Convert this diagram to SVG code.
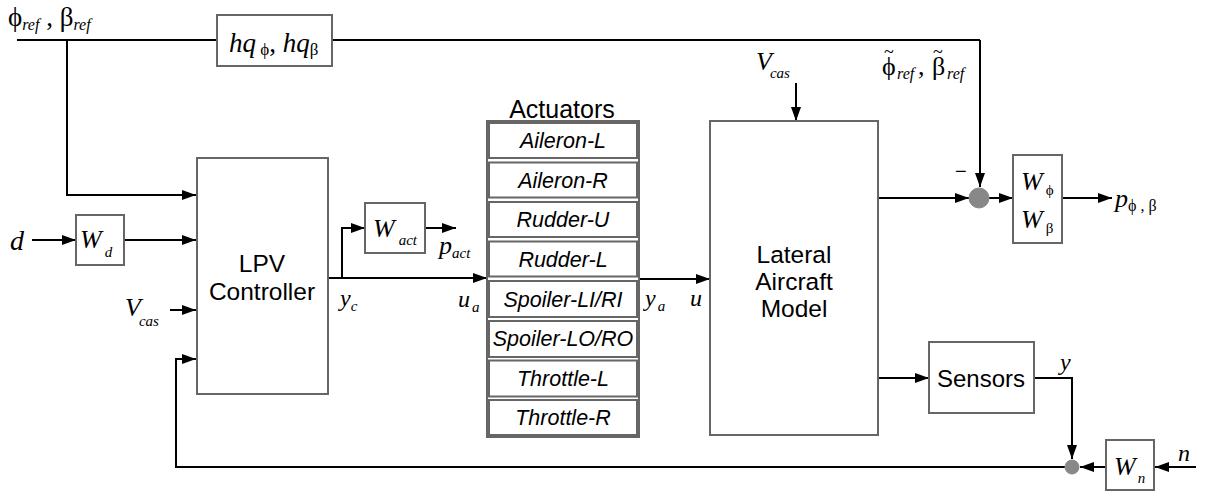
<svg xmlns="http://www.w3.org/2000/svg" width="1214" height="494" viewBox="0 0 1214 494">
<defs>
<marker id="ah" viewBox="0 0 14 10" refX="14" refY="5" markerWidth="14" markerHeight="10" markerUnits="userSpaceOnUse" orient="auto"><path d="M0,0 L14,5 L0,10 Z" fill="#000"/></marker>
<style>
.box{fill:#fff;stroke:#666;stroke-width:2}
.ln{fill:none;stroke:#000;stroke-width:2}
.arr{fill:none;stroke:#000;stroke-width:2;marker-end:url(#ah)}
.m{font-family:"Liberation Serif",serif;font-style:italic;fill:#000}
.g{font-family:"Liberation Serif",serif;font-style:normal;fill:#000}
.s{font-family:"Liberation Sans",Arial,sans-serif;fill:#000}
.r{font-family:"Liberation Sans",Arial,sans-serif;font-style:italic;font-size:21.5px;fill:#000;text-anchor:middle}
.sum{fill:#888;stroke:#888;stroke-width:1}
</style>
</defs>
<g id="connectors">
<path class="ln" d="M17,40 H217"/>
<path class="ln" d="M332,40 H980"/>
<path class="arr" d="M980,40 V187"/>
<path class="arr" d="M67,40 V195 H196"/>
<path class="arr" d="M32,240 H76"/>
<path class="arr" d="M124,240 H196"/>
<path class="arr" d="M170,310 H196"/>
<path class="arr" d="M1065,467 H176 V359 H196"/>
<path class="arr" d="M328,278 H487"/>
<path class="arr" d="M342,278 V228 H365"/>
<path class="arr" d="M425,228 H456"/>
<path class="arr" d="M638,279 H710"/>
<path class="arr" d="M796,83 V121"/>
<path class="arr" d="M879,198 H969"/>
<path class="arr" d="M989,198 H1013"/>
<path class="arr" d="M1062,198 H1112"/>
<path class="arr" d="M879,378 H929"/>
<path class="arr" d="M1034,378 H1072 V459"/>
<path class="arr" d="M1196,467 H1155"/>
<path class="arr" d="M1106,467 H1080"/>
</g>
<g id="sum1"><circle class="sum" cx="979" cy="198" r="10"/><text class="s" x="955" y="178" font-size="20">−</text></g>
<g id="sum2"><circle class="sum" cx="1072" cy="467" r="7"/></g>
<g id="ref-label">
<text x="8" y="26" font-size="27"><tspan class="g">ϕ</tspan><tspan class="m" font-size="16" dy="4">ref</tspan><tspan class="g" dy="-4"> , β</tspan><tspan class="m" font-size="16" dy="4">ref</tspan></text>
</g>
<g id="hq"><rect class="box" x="217" y="15" width="115" height="51"/>
<text x="229" y="52" font-size="27"><tspan class="m">hq</tspan><tspan class="g" font-size="17" dy="3"> ϕ</tspan><tspan class="g" dy="-3">, </tspan><tspan class="m">hq</tspan><tspan class="g" font-size="17" dy="3">β</tspan></text></g>
<g id="d-label"><text class="m" x="10" y="250" font-size="28">d</text></g>
<g id="Wd"><rect class="box" x="76" y="215" width="48" height="50"/>
<text x="80" y="248" font-size="26"><tspan class="m">W</tspan><tspan class="m" font-size="15" dx="3" dy="9">d</tspan></text></g>
<g id="vcas1"><text x="125" y="316" font-size="26"><tspan class="m">V</tspan><tspan class="m" font-size="15" dx="-2" dy="10">cas</tspan></text></g>
<g id="lpv"><rect class="box" x="197" y="158" width="131" height="236"/>
<text class="s" x="262" y="272" font-size="24.5" text-anchor="middle">LPV</text>
<text class="s" x="262" y="300" font-size="24.5" text-anchor="middle">Controller</text></g>
<g id="yc"><text x="340" y="306" font-size="24"><tspan class="m">y</tspan><tspan class="m" font-size="15" dy="5">c</tspan></text></g>
<g id="Wact"><rect class="box" x="365" y="203" width="60" height="50"/>
<text x="373" y="237" font-size="26"><tspan class="m">W</tspan><tspan class="m" font-size="15" dx="4" dy="8">act</tspan></text></g>
<g id="pact"><text x="439" y="254" font-size="26"><tspan class="m">p</tspan><tspan class="m" font-size="15" dy="4">act</tspan></text></g>
<g id="ua"><text x="458" y="307" font-size="24"><tspan class="m">u</tspan><tspan class="m" font-size="15" dx="2" dy="5">a</tspan></text></g>
<g id="actuators">
<text class="s" x="562" y="118" font-size="25" text-anchor="middle">Actuators</text>
<rect x="487" y="121" width="152" height="316" fill="#fff" stroke="#666" stroke-width="2"/>
<rect class="box" x="489" y="123" width="148" height="35"/>
<rect class="box" x="489" y="162.5" width="148" height="35"/>
<rect class="box" x="489" y="202" width="148" height="35"/>
<rect class="box" x="489" y="241.5" width="148" height="35"/>
<rect class="box" x="489" y="281" width="148" height="36"/>
<rect class="box" x="489" y="321" width="148" height="36"/>
<rect class="box" x="489" y="360.5" width="148" height="36"/>
<rect class="box" x="489" y="400" width="148" height="35"/>
<text class="r" x="563" y="148">Aileron-L</text>
<text class="r" x="563" y="188">Aileron-R</text>
<text class="r" x="563" y="227">Rudder-U</text>
<text class="r" x="563" y="267">Rudder-L</text>
<text class="r" x="563" y="307">Spoiler-LI/RI</text>
<text class="r" x="563" y="346">Spoiler-LO/RO</text>
<text class="r" x="563" y="386">Throttle-L</text>
<text class="r" x="563" y="425">Throttle-R</text>
</g>
<g id="ya"><text x="645" y="306" font-size="24"><tspan class="m">y</tspan><tspan class="m" font-size="15" dx="2" dy="5">a</tspan></text></g>
<g id="u"><text class="m" x="690" y="306" font-size="24">u</text></g>
<g id="vcas2"><text x="756" y="70" font-size="26"><tspan class="m">V</tspan><tspan class="m" font-size="15" dx="-2" dy="8">cas</tspan></text></g>
<g id="model"><rect class="box" x="710" y="121" width="168" height="314"/>
<text class="s" x="794" y="263" font-size="24.5" text-anchor="middle">Lateral</text>
<text class="s" x="794" y="290" font-size="24.5" text-anchor="middle">Aircraft</text>
<text class="s" x="794" y="317" font-size="24.5" text-anchor="middle">Model</text></g>
<g id="ref-tilde">
<text font-size="26"><tspan class="g" x="882" y="75">ϕ</tspan><tspan class="g" font-size="18" x="884" y="58">~</tspan><tspan class="m" font-size="16" x="897" y="79">ref</tspan><tspan class="g" x="918" y="75">,</tspan><tspan class="g" x="932" y="75">β</tspan><tspan class="g" font-size="18" x="933" y="58">~</tspan><tspan class="m" font-size="16" x="947" y="79">ref</tspan></text>
</g>
<g id="Wphibeta"><rect class="box" x="1013" y="155" width="49" height="88"/>
<text x="1021" y="190" font-size="26"><tspan class="m">W</tspan><tspan class="g" font-size="15" dx="3" dy="5">ϕ</tspan></text>
<text x="1021" y="228" font-size="26"><tspan class="m">W</tspan><tspan class="g" font-size="15" dx="3" dy="5">β</tspan></text></g>
<g id="pphibeta"><text x="1115" y="207" font-size="26"><tspan class="m">p</tspan><tspan class="g" font-size="16" dy="4">ϕ , β</tspan></text></g>
<g id="sensors"><rect class="box" x="929" y="342" width="105" height="71"/>
<text class="s" x="981" y="387" font-size="24" text-anchor="middle">Sensors</text></g>
<g id="y"><text class="m" x="1060" y="370" font-size="24">y</text></g>
<g id="Wn"><rect class="box" x="1106" y="440" width="48" height="50"/>
<text x="1114" y="475" font-size="26"><tspan class="m">W</tspan><tspan class="m" font-size="15" dx="2" dy="8">n</tspan></text></g>
<g id="n"><text class="m" x="1178" y="461" font-size="24">n</text></g>
</svg>
